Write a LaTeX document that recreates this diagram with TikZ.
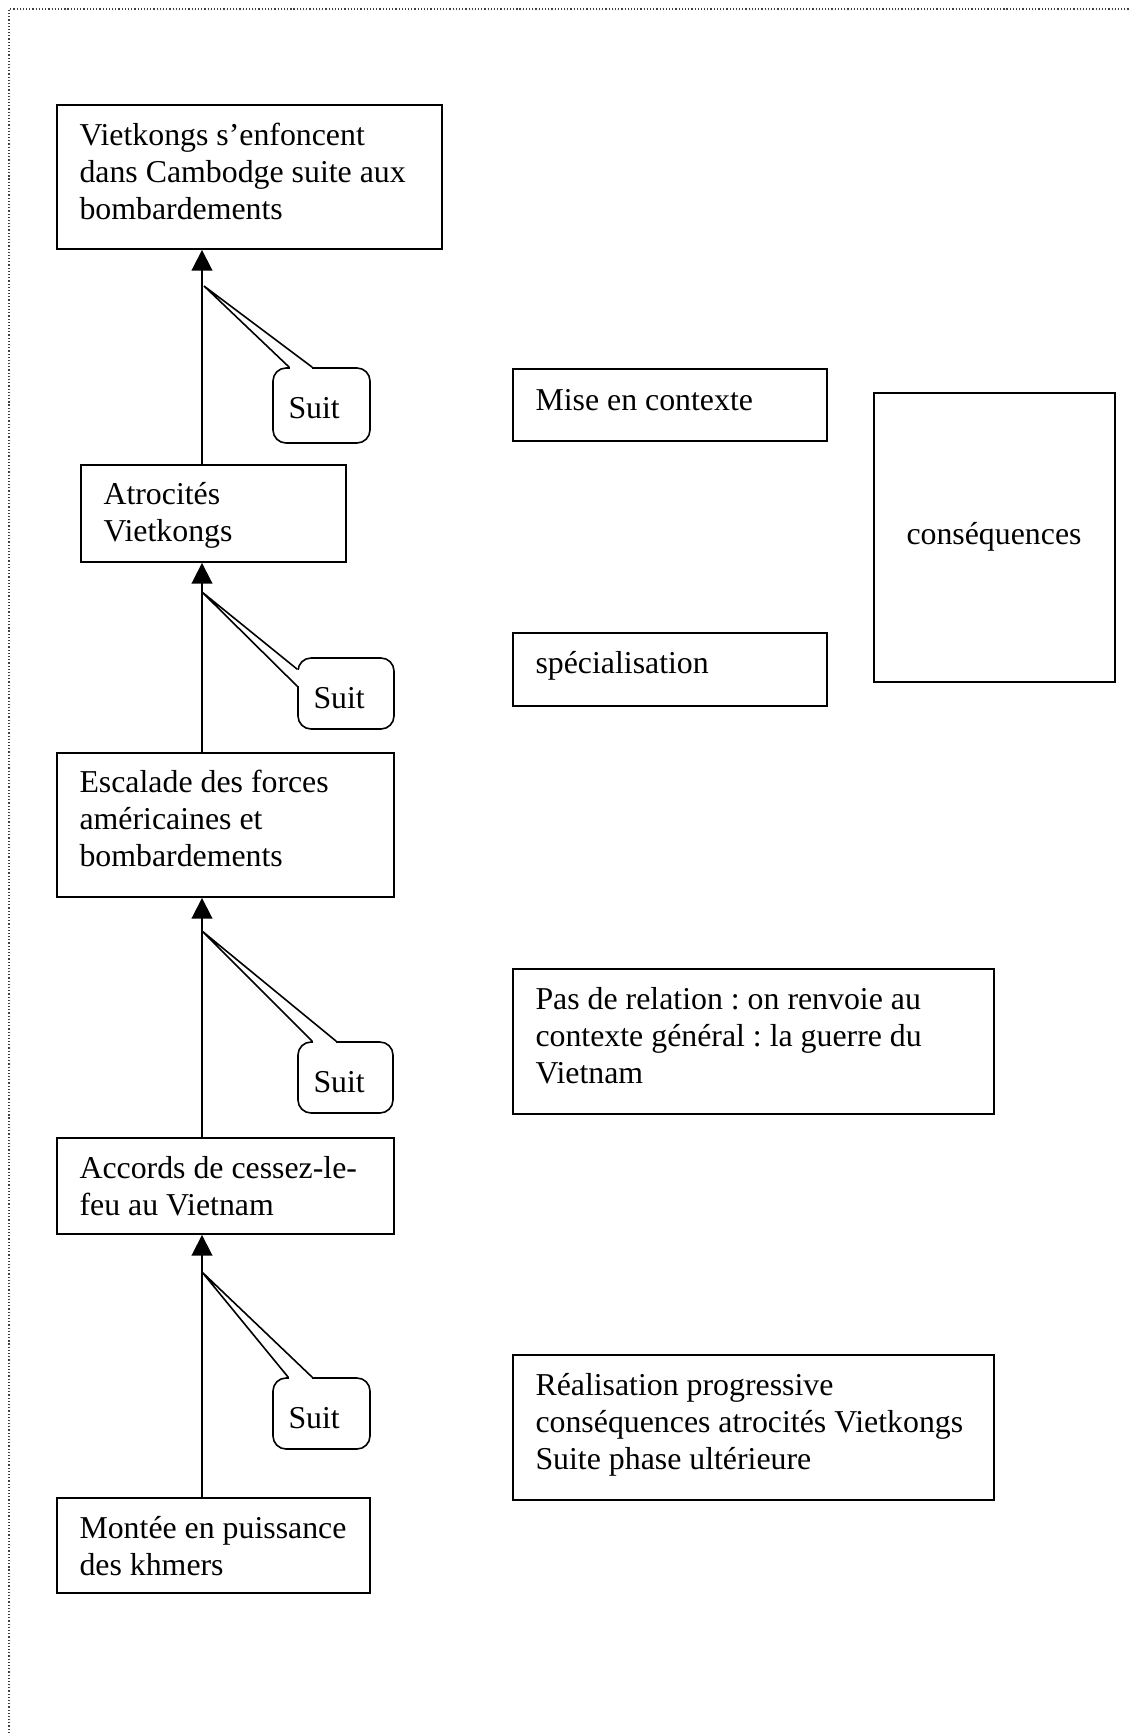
\documentclass[tikz,border=0pt]{standalone}
\usepackage{fontspec}
\setmainfont{Liberation Serif}
\usetikzlibrary{arrows.meta,fit,calc}
\frenchspacing
\begin{document}
\begin{tikzpicture}[x=0.377pt, y=-0.377pt,
  box/.style={draw, line width=0.7pt, inner sep=0pt, rectangle},
  txt/.style={anchor=north west, inner sep=0pt, align=left, font=\fontsize{12}{13.95}\selectfont},
  lbl/.style={anchor=base west, inner sep=0pt, font=\fontsize{12}{13.95}\selectfont},
  callout/.style={draw, line width=0.6pt, rounded corners=4.9pt, inner sep=0pt, fill=white},
  arr/.style={line width=0.7pt, -{Triangle[length=7.8pt,width=7.8pt]}},
  ptr/.style={line width=0.6pt},
  frame/.style={line width=0.45pt, black!75, dash pattern=on 0.45pt off 0.75pt}]
\useasboundingbox (0,0) rectangle (1130,1733);
% page frame (dotted)
\coordinate (f0) at (9,1733);
\coordinate (f1) at (9,9);
\coordinate (f2) at (1130,9);
\draw[frame] (f0) -- (f1) -- (f2);

% main chain boxes
\node[box, fit={(57,105) (442,249)}] (b1) {};
\node[box, fit={(81,465) (346,562)}] (b2) {};
\node[box, fit={(57,753) (394,897)}] (b3) {};
\node[box, fit={(57,1138) (394,1234)}] (b4) {};
\node[box, fit={(57,1498) (370,1593)}] (b5) {};

\node[txt] (b1t) at (79,119) {\strut Vietkongs s’enfoncent\\dans Cambodge suite aux\\bombardements};
\node[txt] (b2t) at (103,478) {\strut Atrocités\\Vietkongs};
\node[txt] (b3t) at (79,766) {\strut Escalade des forces\\américaines et\\bombardements};
\node[txt] (b4t) at (79,1152) {\strut Accords de cessez-le-\\feu au Vietnam};
\node[txt] (b5t) at (79,1512) {\strut Montée en puissance\\des khmers};

% right-hand boxes
\node[box, fit={(513,369) (827,441)}] (m) {};
\node[box, fit={(513,633) (827,706)}] (s) {};
\node[box, fit={(513,969) (994,1114)}] (p) {};
\node[box, fit={(513,1355) (994,1500)}] (r) {};
\node[box, fit={(874,393) (1115,682)}] (k) {};

\node[txt] (mt) at (535,384) {\strut Mise en contexte};
\node[txt] (st) at (535,647) {\strut spécialisation};
\node[txt] (pt) at (535,983) {\strut Pas de relation : on renvoie au\\contexte général : la guerre du\\Vietnam};
\node[txt] (rt) at (535,1369) {\strut Réalisation progressive\\conséquences atrocités Vietkongs\\Suite phase ultérieure};
\node[lbl, anchor=base] (kt) at (994,544) {conséquences};

% vertical arrows
\coordinate (axis) at (202,0);
\draw[arr] (b2.north -| axis) -- (b1.south -| axis);
\draw[arr] (b3.north -| axis) -- (b2.south -| axis);
\draw[arr] (b4.north -| axis) -- (b3.south -| axis);
\draw[arr] (b5.north -| axis) -- (b4.south -| axis);

% callouts
\coordinate (t1) at (204,286);
\coordinate (t2) at (202,592);
\coordinate (t3) at (202,931);
\coordinate (t4) at (202,1272);

\node[callout, fit={(273,368) (370,443)}] (c1) {};
\node[callout, fit={(298,658) (394,729)}] (c2) {};
\node[callout, fit={(298,1042) (393,1113)}] (c3) {};
\node[callout, fit={(273,1378) (370,1449)}] (c4) {};

% pointer c1 (top edge)
\coordinate (c1a) at ($(c1.north west)+(17,0)$);
\coordinate (c1b) at ($(c1.north west)+(40,0)$);
\fill[white] ($(c1a)+(0.6,-1.5)$) rectangle ($(c1b)+(-0.6,1.5)$);
\draw[ptr] (c1a) -- (t1) -- (c1b);
% pointer c2 (left edge)
\coordinate (c2a) at ($(c2.north west)+(0,12)$);
\coordinate (c2b) at ($(c2.north west)+(0,29)$);
\fill[white] ($(c2a)+(-1.5,0.6)$) rectangle ($(c2b)+(1.5,-0.6)$);
\draw[ptr] (c2a) -- (t2) -- (c2b);
% pointer c3 (top edge)
\coordinate (c3a) at ($(c3.north west)+(15,0)$);
\coordinate (c3b) at ($(c3.north west)+(39,0)$);
\fill[white] ($(c3a)+(0.6,-1.5)$) rectangle ($(c3b)+(-0.6,1.5)$);
\draw[ptr] (c3a) -- (t3) -- (c3b);
% pointer c4 (top edge)
\coordinate (c4a) at ($(c4.north west)+(16,0)$);
\coordinate (c4b) at ($(c4.north west)+(40,0)$);
\fill[white] ($(c4a)+(0.6,-1.5)$) rectangle ($(c4b)+(-0.6,1.5)$);
\draw[ptr] (c4a) -- (t4) -- (c4b);

\node[lbl] (c1t) at (288,418) {Suit};
\node[lbl] (c2t) at (313,708) {Suit};
\node[lbl] (c3t) at (313,1092) {Suit};
\node[lbl] (c4t) at (288,1428) {Suit};
\end{tikzpicture}
\end{document}
